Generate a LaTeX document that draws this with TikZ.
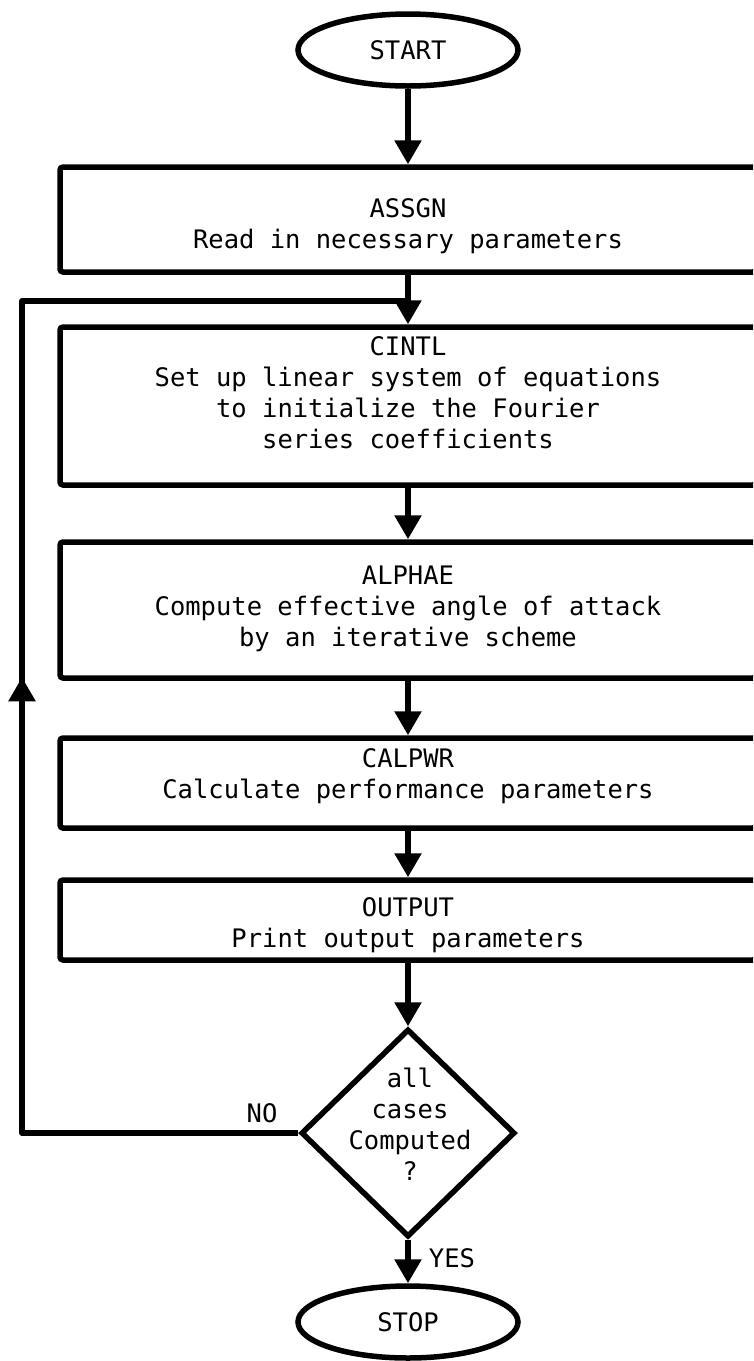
\documentclass[tikz,border=0pt]{standalone}
\usepackage{fontspec}
\setmonofont{DejaVu Sans Mono}
\usetikzlibrary{shapes.geometric,arrows.meta,decorations.markings}
\begin{document}
\begin{tikzpicture}[x=1pt,y=-1pt,
  every node/.style={font=\ttfamily\fontsize{25.5}{31}\selectfont},
  line/.style={line width=5.5pt, line join=round},
  arr/.style={line width=5.5pt, -{Triangle[width=26pt,length=24pt]}},
  procbox/.style={draw, line width=5.5pt, rounded corners=3pt, minimum width=696pt, inner sep=0pt},
  txt/.style={align=center, inner sep=0pt},
  term/.style={draw, ellipse, line width=5.5pt, minimum width=220pt, minimum height=72pt, inner sep=0pt},
  decision/.style={draw, diamond, line width=5.5pt, minimum width=214pt, minimum height=208pt, inner sep=0pt, align=center}]
\useasboundingbox (0,0) rectangle (753,1361);
\clip (0,0) rectangle (753,1361);
\fill[white] (0,0) rectangle (753,1361);

\node[term] (start) at (408,50) {START};

\node[procbox, minimum height=105pt] (assgn) at (408,219.5) {};
\node[txt] (assgnT) at (408,226) {ASSGN\\Read in necessary parameters};

\node[procbox, minimum height=158pt] (cintl) at (408,406) {};
\node[txt] (cintlT) at (408,393) {CINTL\\Set up linear system of equations\\to initialize the Fourier\\series coefficients};

\node[procbox, minimum height=136pt] (alphae) at (408,610) {};
\node[txt] (alphaeT) at (408,609) {ALPHAE\\Compute effective angle of attack\\by an iterative scheme};

\node[procbox, minimum height=90pt] (calpwr) at (408,783) {};
\node[txt] (calpwrT) at (408,776) {CALPWR\\Calculate performance parameters};

\node[procbox, minimum height=80pt] (output) at (408,920) {};
\node[txt] (outputT) at (408,925) {OUTPUT\\Print output parameters};

\node[decision] (dec) at (408,1133) {};
\node[txt] (decT) at (410,1124) {all\\cases\\Computed\\?};

\node[term] (stop) at (408,1322) {STOP};

\node[inner sep=0pt] (no) at (262,1113) {NO};
\node[inner sep=0pt] (yes) at (452,1258) {YES};

\coordinate (fbl) at (22,1133);
\coordinate (fbt) at (22,301);
\coordinate (join) at (408,301);

\draw[arr] (start.south) -- (assgn.north);
\draw[arr] (assgn.south) -- (cintl.north);
\draw[arr] (cintl.south) -- (alphae.north);
\draw[arr] (alphae.south) -- (calpwr.north);
\draw[arr] (calpwr.south) -- (output.north);
\draw[arr] (output.south) -- (dec.north);
\draw[arr] (dec.south) -- (stop.north);

\draw[line, postaction={decorate}, decoration={markings, mark=at position 732pt with {\arrow{Triangle[width=26pt,length=24pt]}}}]
  (dec.west) -- (fbl) -- (fbt) -- (join);
\end{tikzpicture}
\end{document}
